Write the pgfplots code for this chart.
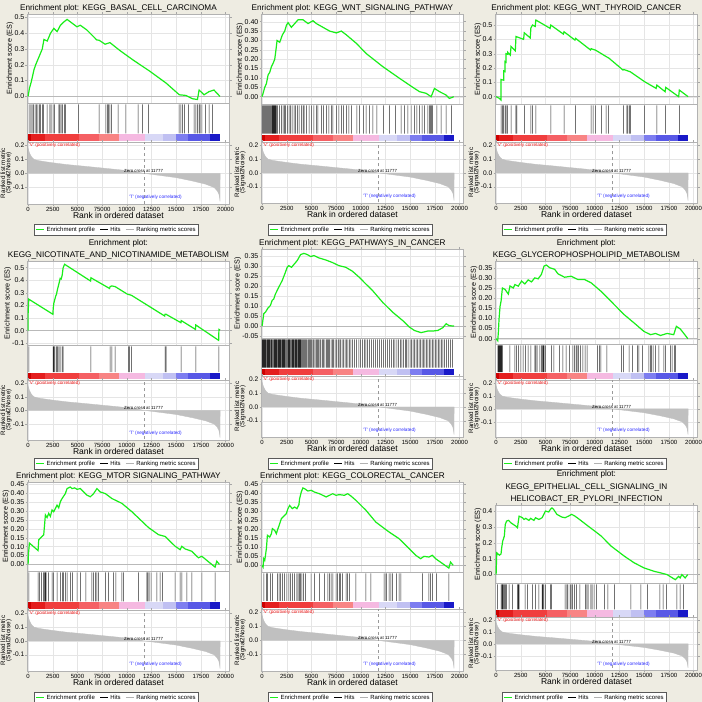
\documentclass[border=0pt]{standalone}
\usepackage{pgfplots}
\pgfplotsset{compat=1.18}
\usepackage{pgfplotstable}
\usepackage{fontspec}
\setmainfont{Liberation Sans}
\setsansfont{Liberation Sans}

\definecolor{bgc}{RGB}{238,236,226}
\definecolor{esgreen}{RGB}{25,238,25}
\definecolor{mgray}{RGB}{192,192,192}
\definecolor{cb1}{RGB}{205,0,0}
\definecolor{cb2}{RGB}{228,30,30}
\definecolor{cb3}{RGB}{240,62,62}
\definecolor{cb4}{RGB}{245,96,100}
\definecolor{cb5}{RGB}{248,132,132}
\definecolor{cb6}{RGB}{245,185,225}
\definecolor{cb7}{RGB}{216,216,246}
\definecolor{cb8}{RGB}{192,192,242}
\definecolor{cb9}{RGB}{125,125,240}
\definecolor{cb10}{RGB}{88,88,230}
\definecolor{cb11}{RGB}{25,25,200}
\definecolor{tblue}{RGB}{40,40,255}
\definecolor{vred}{RGB}{245,30,30}

% ---------------- shared ranked-list metric ----------------
\pgfplotstableread[row sep=\\]{x y\\0 0\\0 0.18\\60 0.165\\150 0.145\\334 0.12\\600 0.10\\1000 0.092\\1600 0.085\\2600 0.075\\3950 0.063\\5600 0.052\\7300 0.04\\9000 0.028\\10600 0.016\\11777 0\\13300 -0.014\\15000 -0.03\\16650 -0.054\\18000 -0.077\\18830 -0.1\\19160 -0.124\\19330 -0.148\\19400 -0.175\\19440 -0.2\\19450 0\\}\metric

% ---------------- P1 BASAL CELL CARCINOMA ----------------
\pgfplotstableread[row sep=\\]{x y\\0 0.0\\134 0.05\\334 0.095\\602 0.17\\769 0.2\\1104 0.25\\1438 0.3\\1605 0.36\\1940 0.35\\2274 0.4\\2608 0.43\\2943 0.41\\3277 0.45\\3612 0.47\\3946 0.487\\4949 0.44\\5284 0.45\\5953 0.42\\6956 0.357\\7192 0.355\\7792 0.33\\8293 0.34\\9296 0.29\\10634 0.23\\12306 0.16\\13978 0.084\\15315 0.01\\15984 0.006\\16653 -0.015\\17155 -0.02\\17322 0.04\\17824 0.01\\18325 0.03\\18827 0.04\\19430 0.0\\}\esA
\pgfplotstableread[row sep=\\]{x\\100\\270\\400\\540\\700\\840\\1000\\1170\\1270\\1440\\1570\\1940\\2210\\2340\\2540\\2680\\3110\\3210\\3350\\3480\\3680\\3810\\5120\\7190\\7890\\8030\\8130\\8290\\8460\\9130\\9900\\11140\\11570\\12210\\15310\\15480\\15650\\15820\\16250\\16820\\16990\\17150\\17320\\17420\\17590\\17990\\18330\\18660\\}\hitsA

% ---------------- P2 WNT SIGNALING ----------------
\pgfplotstableread[row sep=\\]{x y\\0 0\\101 0.018\\270 0.05\\438 0.07\\607 0.116\\775 0.13\\944 0.16\\1112 0.178\\1281 0.2\\1382 0.24\\1517 0.30\\1786 0.29\\2056 0.33\\2292 0.35\\2460 0.38\\2629 0.395\\2966 0.37\\3303 0.39\\3640 0.41\\4145 0.41\\4651 0.39\\5156 0.405\\5493 0.39\\6167 0.37\\6841 0.35\\7515 0.34\\8021 0.35\\8526 0.33\\9537 0.285\\10548 0.23\\12233 0.16\\13918 0.098\\15266 0.05\\15940 0.027\\16614 0.018\\17120 0\\17457 0.044\\17962 0.027\\18636 0.009\\18973 -0.009\\19200 -0.005\\19411 0\\}\esB
\pgfplotstableread[row sep=\\]{x\\34\\135\\236\\337\\438\\539\\640\\741\\842\\944\\1045\\1112\\1180\\1247\\1315\\1382\\1483\\1584\\1786\\1955\\2123\\2292\\2393\\2561\\2730\\2865\\3033\\3235\\3404\\3572\\3741\\3977\\4145\\4246\\4482\\4752\\4988\\5257\\5493\\5662\\5999\\6234\\6504\\6774\\7010\\7178\\7515\\7785\\8021\\8257\\8526\\8796\\9032\\9604\\9874\\10279\\10548\\10885\\11222\\11627\\12301\\12907\\13514\\14087\\14424\\14761\\15098\\15435\\15670\\15940\\16210\\16446\\16783\\16951\\17052\\17154\\17255\\17693\\18131\\18636\\19209\\}\hitsB

% ---------------- P3 WNT THYROID ----------------
\pgfplotstableread[row sep=\\]{x y\\0 0\\336 -0.012\\500 -0.023\\503 0.12\\770 0.115\\772 0.18\\904 0.175\\906 0.245\\1005 0.24\\1007 0.30\\1173 0.296\\1175 0.31\\1443 0.29\\1510 0.35\\1946 0.32\\2014 0.42\\2786 0.40\\2853 0.446\\3457 0.41\\3524 0.48\\3692 0.5\\3960 0.49\\4027 0.535\\5470 0.477\\5537 0.5\\6813 0.437\\6880 0.453\\7987 0.395\\8054 0.407\\9565 0.326\\9632 0.335\\9833 0.33\\10068 0.325\\10672 0.3\\11142 0.28\\11410 0.27\\12854 0.186\\12921 0.19\\13592 0.174\\15035 0.105\\16210 0.058\\16277 0.081\\17116 0.035\\17183 0.065\\18492 0.0\\18559 0.046\\19450 0.0\\}\esC
\pgfplotstableread[row sep=\\]{x\\503\\671\\772\\906\\1007\\1175\\1510\\2014\\2114\\2853\\3524\\3692\\4027\\5537\\6880\\8054\\9632\\9833\\10068\\10672\\11142\\11410\\12921\\13256\\13357\\13491\\13592\\15035\\16277\\17183\\18559\\}\hitsC

% ---------------- P4 NICOTINATE ----------------
\pgfplotstableread[row sep=\\]{x y\\0 0.0\\0 0.13\\67 0.25\\2513 0.13\\2546 0.18\\2613 0.22\\2714 0.25\\2800 0.275\\2881 0.29\\2982 0.33\\3116 0.37\\3250 0.415\\3350 0.41\\3451 0.44\\3551 0.5\\3700 0.527\\6330 0.394\\6365 0.42\\8250 0.335\\8308 0.35\\8476 0.355\\8811 0.35\\10050 0.29\\10285 0.285\\10486 0.28\\13836 0.116\\13869 0.13\\13970 0.13\\15480 0.063\\15511 0.08\\16950 0.01\\16985 0.045\\19300 -0.077\\19330 0.01\\19450 0.005\\}\esD
\pgfplotstableread[row sep=\\]{x\\67\\2546\\2613\\2714\\2881\\2982\\3116\\3250\\3451\\3551\\6365\\8308\\8476\\8811\\10151\\10285\\10486\\13869\\13970\\15511\\16985\\19330\\}\hitsD

% ---------------- P5 PATHWAYS IN CANCER ----------------
\pgfplotstableread[row sep=\\]{x y\\0 0\\170 0.062\\339 0.07\\610 0.092\\848 0.104\\1017 0.129\\1187 0.137\\1356 0.162\\1695 0.196\\2034 0.229\\2305 0.263\\2543 0.296\\2712 0.304\\2983 0.296\\3221 0.31\\3560 0.33\\3899 0.36\\4238 0.366\\4577 0.36\\4916 0.35\\5255 0.355\\5763 0.343\\6441 0.333\\7119 0.32\\7797 0.304\\8475 0.296\\9153 0.276\\9831 0.246\\10509 0.212\\11187 0.179\\12204 0.12\\13221 0.07\\14238 0.028\\14916 -0.005\\15425 -0.022\\16103 -0.033\\16781 -0.025\\17289 -0.025\\17798 -0.022\\18306 -0.008\\18645 0.012\\18916 0.003\\19323 0\\19450 0\\}\esE
\pgfplotstableread[row sep=\\]{x\\30\\90\\150\\230\\300\\360\\420\\500\\560\\640\\700\\780\\850\\930\\1000\\1080\\1150\\1250\\1330\\1400\\1480\\1560\\1650\\1720\\1800\\1880\\1960\\2050\\2120\\2200\\2280\\2370\\2450\\2550\\2650\\2720\\2800\\2900\\2980\\3060\\3150\\3230\\3320\\3400\\3480\\3560\\3650\\3720\\3800\\3880\\3960\\4050\\4150\\4250\\4350\\4450\\4560\\4680\\4800\\4900\\5000\\5150\\5250\\5380\\5500\\5600\\5720\\5850\\5950\\6100\\6200\\6350\\6500\\6600\\6750\\6850\\7000\\7150\\7250\\7400\\7550\\7700\\7800\\7950\\8100\\8250\\8400\\8550\\8700\\8850\\9000\\9150\\9350\\9550\\9800\\9950\\10150\\10350\\10500\\10700\\10900\\11100\\11300\\11500\\11700\\11900\\12100\\12300\\12500\\12700\\12900\\13100\\13300\\13450\\13650\\13800\\14000\\14150\\14300\\14500\\14650\\14800\\15000\\15150\\15300\\15450\\15600\\15750\\15900\\16050\\16200\\16350\\16500\\16650\\16800\\16950\\17100\\17250\\17400\\17550\\17700\\17850\\18000\\18150\\18300\\18500\\18700\\18900\\19100\\19300\\}\hitsE

% ---------------- P6 GLYCEROPHOSPHOLIPID ----------------
\pgfplotstableread[row sep=\\]{x y\\0 0\\168 -0.01\\235 0.036\\302 0.10\\402 0.16\\503 0.185\\637 0.25\\905 0.243\\1240 0.22\\1407 0.26\\1742 0.25\\1910 0.267\\2245 0.259\\2580 0.284\\2915 0.27\\3250 0.29\\3585 0.28\\3920 0.30\\4255 0.295\\4590 0.317\\4858 0.358\\5092 0.363\\5427 0.35\\5930 0.342\\6265 0.32\\6935 0.303\\7605 0.308\\8275 0.292\\8945 0.292\\9615 0.276\\10620 0.234\\11625 0.185\\12965 0.119\\13970 0.078\\14975 0.036\\15645 0.02\\16147 0.026\\16650 0.016\\17320 0.026\\17990 0.02\\18258 0.061\\18660 0.048\\19430 0\\}\esF
\pgfplotstableread[row sep=\\]{x\\168\\235\\302\\369\\436\\503\\570\\637\\1407\\1910\\2077\\2245\\2513\\2747\\2982\\3250\\3518\\3920\\4020\\4154\\4422\\4590\\4690\\4791\\4858\\4992\\5595\\5863\\6432\\6767\\7102\\7437\\7772\\7940\\8107\\8208\\8342\\8543\\8777\\9012\\9213\\10285\\10452\\10620\\11223\\12697\\12898\\13467\\13802\\14305\\14472\\14807\\15477\\15645\\15745\\15913\\16147\\16482\\16985\\17152\\17655\\17823\\18057\\18191\\}\hitsF

% ---------------- P7 MTOR ----------------
\pgfplotstableread[row sep=\\]{x y\\0 0\\34 0.056\\135 0.12\\1011 0.078\\1078 0.139\\1247 0.148\\1415 0.157\\1584 0.167\\1752 0.278\\1921 0.263\\2089 0.287\\2258 0.27\\2426 0.306\\2595 0.296\\2932 0.333\\3100 0.318\\3269 0.352\\3437 0.37\\3774 0.398\\3943 0.426\\4280 0.435\\4448 0.426\\4718 0.43\\4954 0.422\\5291 0.426\\5628 0.407\\5965 0.389\\6302 0.38\\6639 0.398\\6976 0.426\\7313 0.407\\7818 0.398\\8492 0.37\\9503 0.343\\10514 0.296\\12199 0.207\\13210 0.167\\13884 0.157\\14895 0.102\\15401 0.083\\15569 0.102\\15906 0.087\\16580 0.074\\17254 0.037\\17591 0.046\\18602 0\\18939 -0.015\\19108 0.018\\19378 0\\}\esG
\pgfplotstableread[row sep=\\]{x\\67\\1011\\1146\\1348\\1584\\1685\\1752\\1820\\2089\\2426\\2595\\2932\\3269\\3505\\3606\\3774\\3943\\4280\\4516\\4954\\5291\\5864\\6470\\6639\\6807\\6976\\7144\\7818\\8155\\8661\\8897\\9503\\9672\\11188\\12031\\12132\\12267\\12469\\13042\\13379\\13615\\14895\\15401\\15569\\16075\\16580\\17591\\18939\\}\hitsG

% ---------------- P8 COLORECTAL ----------------
\pgfplotstableread[row sep=\\]{x y\\0 0\\101 -0.01\\168 0.037\\269 0.028\\437 0.093\\538 0.167\\773 0.157\\941 0.176\\1042 0.204\\1277 0.194\\1445 0.176\\1546 0.194\\1781 0.231\\1949 0.259\\2117 0.269\\2285 0.278\\2453 0.287\\2621 0.315\\2789 0.333\\3058 0.315\\3293 0.324\\3528 0.315\\3730 0.337\\3797 0.37\\3965 0.407\\4133 0.43\\4301 0.426\\4637 0.413\\4973 0.417\\5309 0.407\\5813 0.398\\6485 0.38\\6821 0.389\\7157 0.398\\7493 0.389\\7829 0.393\\8333 0.389\\8669 0.398\\9005 0.385\\9509 0.361\\10517 0.306\\11525 0.24\\12869 0.185\\13877 0.148\\14885 0.093\\15557 0.056\\16061 0.037\\16397 0.05\\16901 0.046\\17237 0.056\\17573 0.037\\18917 -0.015\\19085 0.018\\19354 0\\}\esH
\pgfplotstableread[row sep=\\]{x\\168\\437\\538\\840\\1042\\1546\\1714\\1848\\2050\\2285\\2520\\2722\\2856\\3058\\3293\\3528\\3662\\3797\\3898\\4032\\4200\\4402\\4973\\5309\\5813\\6317\\6653\\6821\\6989\\7157\\7493\\7661\\7829\\7930\\8165\\8501\\8669\\8837\\9509\\10517\\11021\\12365\\12533\\12600\\12869\\13037\\13205\\13608\\13877\\14045\\16229\\16901\\17069\\17237\\17640\\18917\\}\hitsH

% ---------------- P9 EPITHELIAL / H. PYLORI ----------------
\pgfplotstableread[row sep=\\]{x y\\0 0\\67 0.137\\333 0.122\\500 0.13\\566 0.168\\666 0.21\\833 0.242\\932 0.316\\1066 0.337\\1265 0.341\\1499 0.326\\1998 0.305\\2165 0.295\\2331 0.368\\2664 0.358\\2831 0.347\\2997 0.354\\3330 0.341\\3497 0.354\\3830 0.341\\3996 0.358\\4329 0.347\\4662 0.358\\4829 0.379\\4995 0.4\\5328 0.394\\5495 0.41\\5661 0.42\\5828 0.41\\6161 0.379\\6660 0.362\\6993 0.358\\7326 0.368\\7659 0.379\\7992 0.368\\8658 0.337\\9324 0.305\\9990 0.274\\10656 0.242\\11655 0.179\\12987 0.116\\13986 0.074\\14985 0.042\\15984 0.021\\16650 0.011\\17316 0\\18149 -0.032\\18482 -0.011\\18648 -0.021\\18815 0\\19148 -0.021\\19414 0\\}\esI
\pgfplotstableread[row sep=\\]{x\\167\\500\\599\\666\\766\\866\\932\\1066\\1332\\1665\\2165\\2264\\2331\\2930\\3164\\3663\\3996\\4329\\4662\\4729\\4829\\4995\\5495\\5594\\6993\\7160\\7259\\7493\\7592\\7726\\7925\\8159\\8492\\9058\\9191\\9324\\9590\\9724\\9923\\10157\\10989\\11322\\11988\\13653\\14652\\15318\\16583\\16916\\17249\\18315\\18648\\18981\\}\hitsI

\pgfplotsset{
  gbase/.style={scale only axis, width=202pt, anchor=north west,
    xmin=-60, xmax=20400, scaled x ticks=false, scaled y ticks=false,
    axis background/.style={fill=white},
    axis line style={gray!60, line width=0.4pt},
    tick style={gray!70, line width=0.4pt}, tick align=outside, major tick length=2pt,
    xtick={0,2500,5000,7500,10000,12500,15000,17500,20000},
    /pgf/number format/assume math mode=true,
    tick label style={font=\fontsize{7}{8}\selectfont},
    yticklabel style={/pgf/number format/fixed, /pgf/number format/fixed zerofill, inner sep=1pt},
  },
  p1/.style={yticklabel style={/pgf/number format/precision=1}},
  p2/.style={yticklabel style={/pgf/number format/precision=2}},
  esaxis/.style={gbase, xticklabels={}, grid=major, major grid style={gray!20, line width=0.3pt},
    ylabel={Enrichment score (ES)},
    ylabel style={font=\fontsize{7.2}{8}\selectfont, inner sep=0pt},
    title style={at={(0.45,1)}, anchor=south, yshift=-4.5pt, inner sep=0pt, align=center,
      font=\fontsize{8.2}{12.5}\selectfont},
  },
  hitsaxis/.style={gbase, xtick=\empty, ytick=\empty, ymin=-0.3, ymax=1.05},
  metricaxis/.style={gbase, p1, ymin=-0.218, ymax=0.224, ytick={-0.1,0,0.1,0.2},
    grid=major, major grid style={gray!20, line width=0.3pt},
    yticklabel style={font=\fontsize{6.6}{7}\selectfont},
    xticklabels={0,2500,5000,75000,10000,12500,15000,17500,20000},
    xticklabel style={font=\fontsize{6}{7}\selectfont, yshift=2.5pt},
    xlabel={Rank in ordered dataset},
    xlabel style={font=\fontsize{8.5}{9}\selectfont, inner sep=0pt,
      at={(axis description cs:0.45,0)}, anchor=north, yshift=-8.5pt},
    ylabel={Ranked list metric\\(Signal2Noise)},
    ylabel style={font=\fontsize{6.3}{5.3}\selectfont, align=center, inner sep=0pt},
    legend columns=3,
    legend image code/.code={\draw[##1] (0pt,0pt) -- (8pt,0pt);},
    legend style={draw=gray!70!black, fill=white, font=\fontsize{6}{7}\selectfont,
      inner sep=1pt, at={(0.44,0)}, anchor=north,
      /tikz/every even column/.append style={column sep=3pt}},
  },
}

\def\parsegeo#1,#2,#3,#4,#5,#6\relax{\def\gx{#1}\def\gy{#2}\def\gA{#3}\def\gB{#4}\def\gC{#5}\def\gD{#6}}
\newcommand\cbseg[3]{\addplot[fill=#1, draw=none, forget plot] coordinates {(#2,-0.28) (#3,-0.28) (#3,-0.04) (#2,-0.04)} -- cycle;}
% #1 geometry, #2 title, #3 ES table, #4 hits table, #5 ES axis options
\newcommand\gsea[5]{%
  \parsegeo#1\relax
  \pgfmathsetmacro\axx{\gx+27.5}%
  \pgfmathsetmacro\esy{-\gy-\gA}%
  \pgfmathsetmacro\esh{\gB-\gA}%
  \pgfmathsetmacro\hy{-\gy-\gB}%
  \pgfmathsetmacro\hh{\gC-\gB}%
  \pgfmathsetmacro\my{-\gy-\gC}%
  \pgfmathsetmacro\mh{\gD-\gC}%
  \pgfmathsetmacro\lsh{223.5-\gD}%
  \begin{axis}[esaxis, at={(\axx pt,\esy pt)}, height=\esh pt, title={#2}, #5]
    \addplot[gray!55, line width=0.9pt, forget plot] coordinates {(-100,0) (20500,0)};
    \addplot[esgreen, line width=1.2pt] table {#3};
  \end{axis}
  \begin{axis}[hitsaxis, at={(\axx pt,\hy pt)}, height=\hh pt]
    \cbseg{cb1}{0}{330}\cbseg{cb2}{330}{1670}\cbseg{cb3}{1670}{5120}\cbseg{cb4}{5120}{7190}
    \cbseg{cb5}{7190}{9230}\cbseg{cb6}{9230}{11800}\cbseg{cb7}{11800}{13650}\cbseg{cb8}{13650}{14980}
    \cbseg{cb9}{14980}{16220}\cbseg{cb10}{16220}{18400}\cbseg{cb11}{18400}{19450}
    \addplot[ybar, bar width=0.5pt, fill=black!85, draw=none] table[x index=0, y index=0, y expr=1] {#4};
  \end{axis}
  \begin{axis}[metricaxis, at={(\axx pt,\my pt)}, height=\mh pt, legend style={yshift=-\lsh pt}]
    \addplot[fill=mgray, draw=mgray, line width=0.3pt, forget plot] table {\metric} -- cycle;
    \addplot[gray!80, dashed, line width=0.4pt, forget plot] coordinates {(11777,-0.3) (11777,0.3)};
    \node[anchor=west, inner sep=0pt, text=vred, font=\fontsize{4.7}{5}\selectfont] at (axis cs:80,0.2) {\textquotesingle V\textquotesingle\ (positively correlated)};
    \node[inner sep=0pt, font=\fontsize{4.4}{5}\selectfont] at (axis cs:11700,0.016) {Zero cross at 11777};
    \node[inner sep=0pt, text=tblue, font=\fontsize{4.7}{5}\selectfont] at (axis cs:12900,-0.168) {\textquotesingle T\textquotesingle\ (negatively correlated)};
    \addlegendimage{esgreen, line width=1.4pt}\addlegendentry{Enrichment profile}
    \addlegendimage{black, line width=0.5pt}\addlegendentry{Hits}
    \addlegendimage{gray!60, line width=0.6pt}\addlegendentry{Ranking metric scores}
  \end{axis}
}

\begin{document}
\begin{tikzpicture}
\fill[bgc] (0,0) rectangle (702pt,-702pt);
\gsea{0,0,14,103,142,204}{Enrichment plot: KEGG\_BASAL\_CELL\_CARCINOMA}{\esA}{\hitsA}{p1, ymin=-0.042, ymax=0.521, ytick={0,0.1,0.2,0.3,0.4,0.5}}
\gsea{234,0,14,104,142,203}{Enrichment plot: KEGG\_WNT\_SIGNALING\_PATHWAY}{\esB}{\hitsB}{p2, ymin=-0.039, ymax=0.441, ytick={0,0.05,0.1,0.15,0.2,0.25,0.3,0.35,0.4}}
\gsea{468,0,14,104,142,203}{Enrichment plot: KEGG\_WNT\_THYROID\_CANCER}{\esC}{\hitsC}{p1, ymin=-0.051, ymax=0.577, ytick={0,0.1,0.2,0.3,0.4,0.5}}
\gsea{0,234,27,111,146,206}{Enrichment plot:\\KEGG\_NICOTINATE\_AND\_NICOTINAMIDE\_METABOLISM}{\esD}{\hitsD}{p1, ymin=-0.114, ymax=0.553, ytick={-0.1,0,0.1,0.2,0.3,0.4,0.5}}
\gsea{234,234,15,104,142,203}{Enrichment plot: KEGG\_PATHWAYS\_IN\_CANCER}{\esE}{\hitsE}{p2, ymin=-0.06, ymax=0.388, ytick={-0.05,0,0.05,0.1,0.15,0.2,0.25,0.3,0.35}}
\gsea{468,234,27,110,146,203}{Enrichment plot:\\KEGG\_GLYCEROPHOSPHOLIPID\_METABOLISM}{\esF}{\hitsF}{p2, ymin=-0.026, ymax=0.383, ytick={0,0.05,0.1,0.15,0.2,0.25,0.3,0.35}}
\gsea{0,468,14,103,142,203}{Enrichment plot: KEGG\_MTOR SIGNALING\_PATHWAY}{\esG}{\hitsG}{p2, ymin=-0.037, ymax=0.463, ytick={0,0.05,0.1,0.15,0.2,0.25,0.3,0.35,0.4,0.45}}
\gsea{234,468,14,104,141,203}{Enrichment plot: KEGG\_COLORECTAL\_CANCER}{\esH}{\hitsH}{p2, ymin=-0.037, ymax=0.463, ytick={0,0.05,0.1,0.15,0.2,0.25,0.3,0.35,0.4,0.45}}
\gsea{468,468,37,115,149,202}{Enrichment plot:\\KEGG\_EPITHELIAL\_CELL\_SIGNALING\_IN\\HELICOBACT\_ER\_PYLORI\_INFECTION}{\esI}{\hitsI}{p1, ymin=-0.053, ymax=0.438, ytick={0,0.1,0.2,0.3,0.4}}
\pgfresetboundingbox
\path[use as bounding box] (0,0) rectangle (702pt,-702pt);
\end{tikzpicture}
\end{document}
